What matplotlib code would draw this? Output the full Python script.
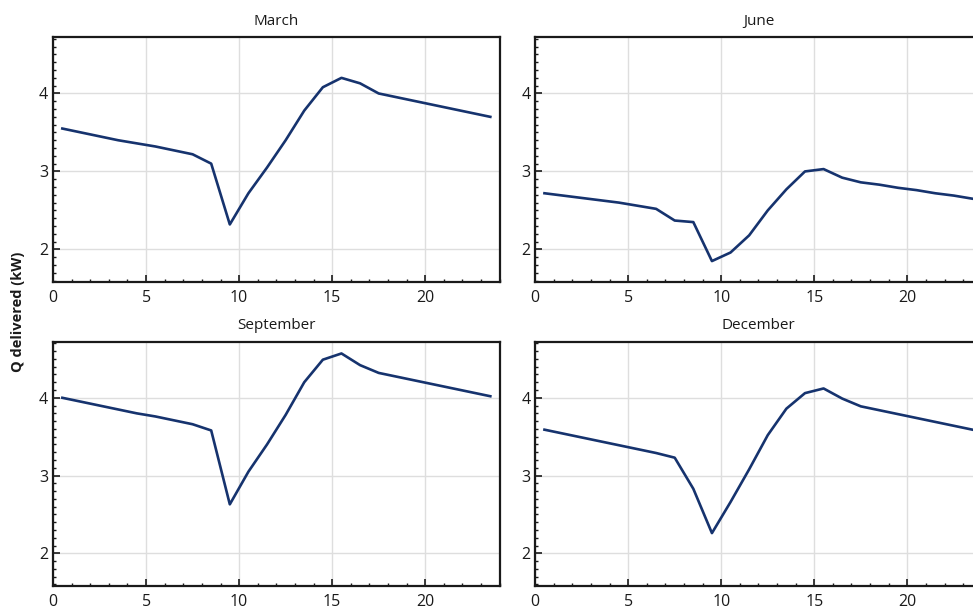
import numpy as np
import matplotlib
matplotlib.use('Agg')
from matplotlib import pyplot as plt
from matplotlib.ticker import MultipleLocator

plt.rcParams['font.family'] = ['Open Sans', 'DejaVu Sans']

hours = [0.5, 1.5, 2.5, 3.5, 4.5, 5.5, 6.5, 7.5, 8.5, 9.5, 10.5, 11.5,
         12.5, 13.5, 14.5, 15.5, 16.5, 17.5, 18.5, 19.5, 20.5, 21.5, 22.5, 23.5]

march = [3.55, 3.50, 3.45, 3.40, 3.36, 3.32, 3.27, 3.22, 3.10, 2.32, 2.72, 3.05,
         3.40, 3.78, 4.08, 4.20, 4.13, 4.00, 3.95, 3.90, 3.85, 3.80, 3.75, 3.70]
june = [2.72, 2.69, 2.66, 2.63, 2.60, 2.56, 2.52, 2.37, 2.35, 1.85, 1.96, 2.18,
        2.50, 2.77, 3.00, 3.03, 2.92, 2.86, 2.83, 2.79, 2.76, 2.72, 2.69, 2.65]
september = [4.00, 3.95, 3.90, 3.85, 3.80, 3.76, 3.71, 3.66, 3.58, 2.63, 3.05, 3.40,
             3.78, 4.20, 4.49, 4.57, 4.42, 4.32, 4.27, 4.22, 4.17, 4.12, 4.07, 4.02]
december = [3.59, 3.54, 3.49, 3.44, 3.39, 3.34, 3.29, 3.23, 2.83, 2.26, 2.66, 3.08,
            3.52, 3.86, 4.06, 4.12, 3.99, 3.89, 3.84, 3.79, 3.74, 3.69, 3.64, 3.59]

titles = ['March', 'June', 'September', 'December']
series = [march, june, september, december]

fig = plt.figure(figsize=(9.73, 6.12), dpi=100)

# axes boxes in figure fractions (right column runs off the edge like the original)
boxes = [(0.0545, 0.539, 0.459, 0.400),
         (0.550, 0.539, 0.459, 0.400),
         (0.0545, 0.0425, 0.459, 0.399),
         (0.550, 0.0425, 0.459, 0.399)]

for box, title, vals in zip(boxes, titles, series):
    ax = fig.add_axes(box)
    ax.plot(hours, vals, color='#16336e', lw=1.9, solid_joinstyle='round')
    ax.set_xlim(0, 24)
    ax.set_ylim(1.58, 4.72)
    ax.xaxis.set_major_locator(MultipleLocator(5))
    ax.xaxis.set_minor_locator(MultipleLocator(1))
    ax.yaxis.set_major_locator(MultipleLocator(1))
    ax.yaxis.set_minor_locator(MultipleLocator(0.1))
    ax.grid(True, which='major', color='#dedede', lw=1.0)
    ax.tick_params(which='both', direction='in', colors='#1a1a1a', labelsize=11.5)
    ax.tick_params(which='major', length=5, width=1.2)
    ax.tick_params(which='minor', length=2.5, width=1.0)
    ax.tick_params(axis='x', pad=6)
    for s in ax.spines.values():
        s.set_linewidth(1.6)
        s.set_color('#1a1a1a')
    ax.set_title(title, fontsize=11, pad=9, color='#1a1a1a')

fig.text(0.018, 0.49, 'Q delivered (kW)', rotation=90, ha='center', va='center',
         fontsize=10.5, fontweight='bold', color='#1a1a1a')

plt.savefig('out.png', dpi=100)
